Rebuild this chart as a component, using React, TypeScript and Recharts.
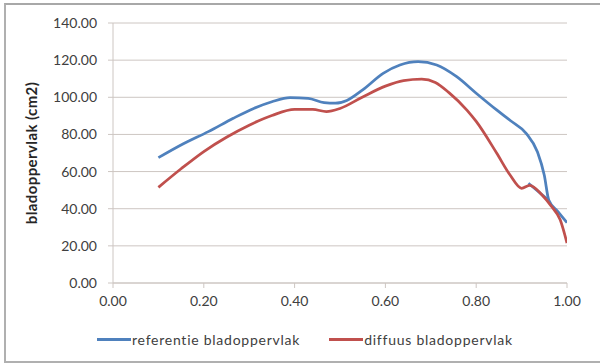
import {
  CartesianGrid,
  Legend,
  Line,
  LineChart,
  XAxis,
  YAxis,
} from 'recharts';

const referentieX = [
  0.1, 0.155, 0.21, 0.265, 0.31, 0.35, 0.39, 0.43, 0.465, 0.49, 0.515, 0.55,
  0.595, 0.632, 0.672, 0.713, 0.757, 0.8, 0.845, 0.875, 0.91, 0.935, 0.95,
  0.96, 0.98, 1.0,
];
const referentieValues = [
  67.5, 75, 81.5, 88.7, 94, 97.6, 99.8, 99.4, 97.1, 96.8, 98.3, 104, 112.9,
  117.4, 119.2, 117.4, 111.1, 102.2, 93.2, 87.5, 80.6, 70.5, 58, 44.5, 38.5,
  32.5,
];
// short return stroke of the blue curve near x = 0.92
const referentieHookX = [0.915, 0.955];
const referentieHookValues = [53.7, 45.5];

const diffuusX = [
  0.1, 0.15, 0.2, 0.25, 0.3, 0.35, 0.4, 0.44, 0.47, 0.5, 0.55, 0.6, 0.64,
  0.68, 0.71, 0.74, 0.78, 0.8, 0.845, 0.875, 0.9, 0.918, 0.945, 0.965, 0.985,
  1.0,
];
const diffuusValues = [
  51.5, 61.5, 70.8, 78.5, 85, 90.2, 93.5, 93.5, 92.3, 94, 100.2, 106, 109,
  109.8, 108, 102.5, 93, 87, 70, 58, 51, 52.6, 47.4, 41.5, 34, 21.5,
];

const xTicks = [0, 0.2, 0.4, 0.6, 0.8, 1.0];
const yTicks = [0, 20, 40, 60, 80, 100, 120, 140];

const BLUE = '#4f81bd';
const RED = '#c0504d';
const FONT = 'Lato, "Open Sans", sans-serif';
const TEXT = '#404040';
const GRID = '#cdc6c2';

const legendItems = [
  { label: 'referentie bladoppervlak', color: BLUE },
  { label: 'diffuus bladoppervlak', color: RED },
];

const toPoints = (xs: number[], ys: number[]) =>
  xs.map((x, i) => ({ x, y: ys[i] }));

const referentieData = toPoints(referentieX, referentieValues);
const referentieHook = toPoints(referentieHookX, referentieHookValues);
const diffuusData = toPoints(diffuusX, diffuusValues);

const renderLegend = () => (
  <div
    style={{
      display: 'flex',
      alignItems: 'center',
      fontFamily: FONT,
      fontSize: 14,
      letterSpacing: 0.75,
      color: TEXT,
    }}
  >
    {legendItems.map((item) => (
      <span
        key={item.label}
        style={{ display: 'flex', alignItems: 'center', marginRight: 29 }}
      >
        <span
          style={{
            display: 'inline-block',
            width: 34,
            height: 3,
            background: item.color,
            marginRight: 1,
          }}
        />
        {item.label}
      </span>
    ))}
  </div>
);

export default function App() {
  return (
    <div
      style={{
        position: 'absolute',
        left: 0,
        top: 0,
        width: 600,
        height: 364,
        background: '#fff',
      }}
    >
      <div
        style={{
          position: 'absolute',
          left: 4,
          top: 3,
          width: 596,
          height: 356,
          borderTop: '2px solid #a8a8a8',
          borderLeft: '2px solid #b0b0b0',
          borderBottom: '2px solid #b0b0b0',
        }}
      />
      <LineChart
        width={600}
        height={364}
        margin={{ top: 23, right: 33, bottom: 51, left: 0 }}
      >
        <CartesianGrid horizontal vertical={false} stroke={GRID} />
        <XAxis
          type="number"
          dataKey="x"
          domain={[0, 1]}
          ticks={xTicks}
          tickFormatter={(v: number) => v.toFixed(2)}
          stroke={GRID}
          tickSize={5}
          tickMargin={8}
          height={30}
          tick={{ fill: TEXT, fontSize: 14, fontFamily: FONT }}
          allowDataOverflow
        />
        <YAxis
          type="number"
          dataKey="y"
          domain={[0, 140]}
          ticks={yTicks}
          tickFormatter={(v: number) => v.toFixed(2)}
          stroke={GRID}
          tickSize={5}
          tickMargin={11}
          width={113}
          tick={{ fill: TEXT, fontSize: 14, fontFamily: FONT }}
          label={{
            value: 'bladoppervlak (cm2)',
            angle: -90,
            position: 'insideLeft',
            offset: 32,
            style: {
              textAnchor: 'middle',
              fontWeight: 700,
              fontSize: 15,
              letterSpacing: 0.4,
              fontFamily: FONT,
              fill: '#262626',
            },
          }}
        />
        <Legend
          layout="horizontal"
          verticalAlign="middle"
          align="center"
          content={renderLegend}
          wrapperStyle={{ top: 331, left: 97, width: 480 }}
        />
        <Line
          data={referentieData}
          dataKey="y"
          name="referentie bladoppervlak"
          type="monotone"
          stroke={BLUE}
          strokeWidth={2.75}
          dot={false}
          isAnimationActive={false}
        />
        <Line
          data={referentieHook}
          dataKey="y"
          name="referentie hook"
          legendType="none"
          type="linear"
          stroke={BLUE}
          strokeWidth={2.75}
          dot={false}
          isAnimationActive={false}
        />
        <Line
          data={diffuusData}
          dataKey="y"
          name="diffuus bladoppervlak"
          type="monotone"
          stroke={RED}
          strokeWidth={2.75}
          dot={false}
          isAnimationActive={false}
        />
      </LineChart>
    </div>
  );
}
